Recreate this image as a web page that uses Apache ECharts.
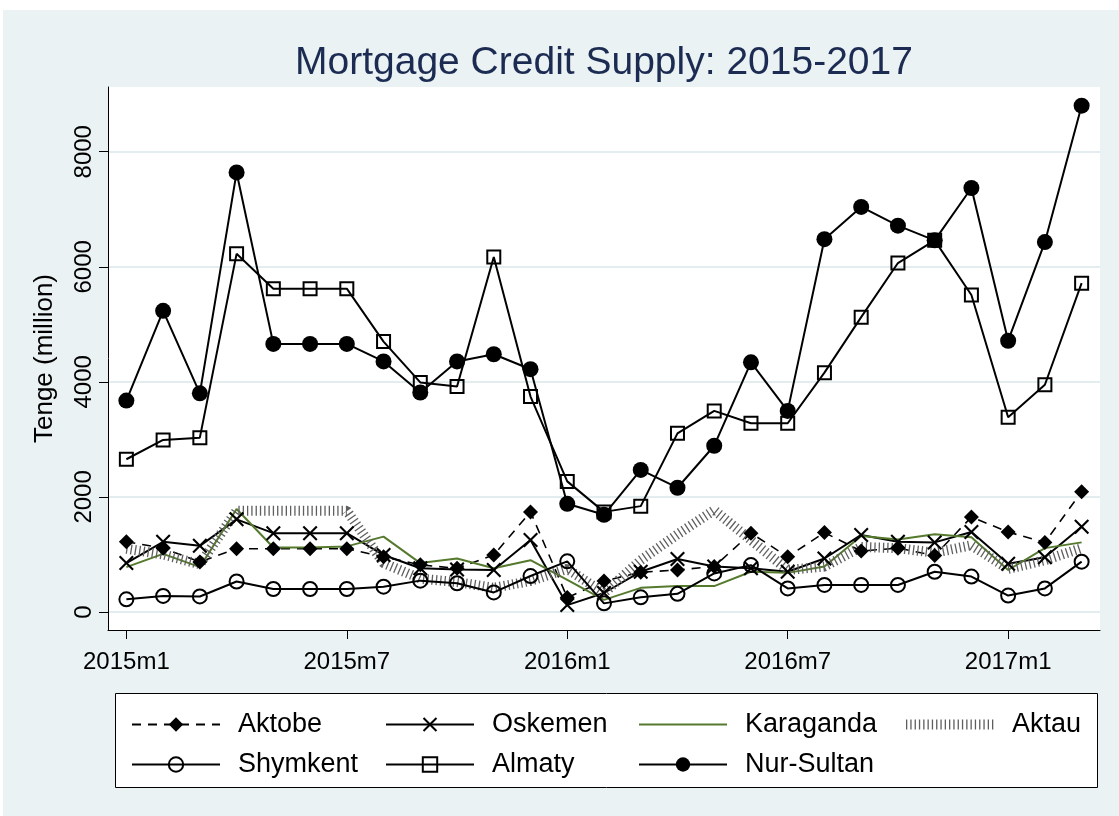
<!DOCTYPE html>
<html>
<head>
<meta charset="utf-8">
<script src="https://cdn.jsdelivr.net/npm/echarts@6/dist/echarts.min.js"></script>
<style>
  html, body { margin: 0; padding: 0; background: #fff; }
  #chart { width: 1119px; height: 816px; }
</style>
</head>
<body>
<div id="chart"></div>
<script>
const months = [
  "2015m1", "2015m2", "2015m3", "2015m4", "2015m5", "2015m6", "2015m7", "2015m8", "2015m9", "2015m10", "2015m11", "2015m12",
  "2016m1", "2016m2", "2016m3", "2016m4", "2016m5", "2016m6", "2016m7", "2016m8", "2016m9", "2016m10", "2016m11", "2016m12",
  "2017m1", "2017m2", "2017m3"
]
const yTicks = [0, 2000, 4000, 6000, 8000]

// Tenge (million)
const aktobe = [1220, 1110, 870, 1100, 1100, 1100, 1100, 960, 820, 760, 990, 1740, 250, 540, 690, 730, 790, 1370, 960, 1380, 1060, 1110, 980, 1650, 1390, 1210, 2090]
const oskemen = [850, 1220, 1150, 1610, 1370, 1370, 1370, 990, 760, 740, 730, 1250, 120, 330, 700, 920, 790, 760, 700, 930, 1340, 1220, 1210, 1390, 840, 950, 1480]
const karaganda = [780, 1010, 780, 1790, 1120, 1120, 1140, 1310, 850, 930, 760, 900, 560, 210, 420, 450, 450, 700, 680, 790, 1320, 1260, 1350, 1300, 730, 1110, 1210]
const aktau = [1100, 1000, 830, 1760, 1760, 1760, 1760, 850, 580, 520, 420, 540, 750, 330, 900, 1350, 1770, 1250, 730, 790, 1130, 1110, 1030, 1160, 750, 900, 1110]
const shymkent = [220, 280, 270, 530, 400, 400, 400, 440, 545, 500, 340, 625, 880, 150, 255, 315, 670, 815, 410, 470, 470, 470, 700, 615, 285, 410, 875]
const almaty = [2655, 2990, 3030, 6225, 5620, 5620, 5620, 4700, 3990, 3920, 6170, 3745, 2270, 1740, 1840, 3105, 3495, 3280, 3280, 4160, 5125, 6065, 6460, 5510, 3385, 3950, 5715]
const nurSultan = [3675, 5235, 3800, 7640, 4660, 4660, 4660, 4355, 3815, 4355, 4480, 4220, 1880, 1690, 2470, 2160, 2890, 4340, 3495, 6480, 7040, 6715, 6460, 7370, 4715, 6430, 8800]

const font = "'Liberation Sans', Arial, sans-serif"
const crossPath = "path://M0,1L1,0L5,4L9,0L10,1L6,5L10,9L9,10L5,6L1,10L0,9L4,5Z"
const green = "#557a2d"
const hatch = { color: "#5e5e5e", width: 10, type: [1.3, 3], cap: "butt" }

const chart = echarts.init(document.getElementById("chart"))

function lineSeries(name, data, extra) {
  return Object.assign({
    name: name,
    type: "line",
    data: data,
    symbol: "none",
    lineStyle: { color: "#000", width: 2 },
    itemStyle: { color: "#000" },
    emphasis: { disabled: true },
  }, extra)
}

const legendText = { fontSize: 27, fontFamily: font, color: "#000", lineHeight: 27, padding: [0, 0, 0, 13] }
function legendCol(names, left) {
  return {
    data: names, orient: "vertical", left: left, top: 706,
    itemWidth: 88, itemHeight: 18, itemGap: 13,
    textStyle: legendText, selectedMode: false,
  }
}
const noSymbol = { color: "rgba(0,0,0,0)", borderWidth: 0 }

const option = {
  backgroundColor: "#eaf2f3",
  animation: false,
  title: {
    text: "Mortgage Credit Supply: 2015-2017",
    left: 290, top: 39,
    textStyle: { color: "#1c2b52", fontSize: 39, fontWeight: "normal", fontFamily: font },
  },
  graphic: [
    { type: "rect", shape: { x: 0, y: 0, width: 1119, height: 10 }, style: { fill: "#fff" }, silent: true },
    { type: "rect", shape: { x: 0, y: 0, width: 3, height: 816 }, style: { fill: "#fff" }, silent: true },
    { type: "rect", shape: { x: 115.5, y: 693.5, width: 982, height: 94 }, style: { fill: "#fff", stroke: "#000", lineWidth: 1 }, silent: true, z: 0 },
  ],
  legend: [
    legendCol(["Aktobe", "Shymkent"], 126),
    legendCol(["Oskemen", "Almaty"], 380),
    legendCol([{ name: "Karaganda", itemStyle: noSymbol }, "Nur-Sultan"], 633),
    legendCol([{ name: "Aktau", itemStyle: noSymbol, lineStyle: hatch }], 896),
  ],
  grid: {
    left: 108, right: 19, top: 87, bottom: 186,
    show: true, backgroundColor: "#fff", borderWidth: 0,
  },
  xAxis: {
    type: "category",
    data: months,
    boundaryGap: true,
    axisLine: { onZero: false, lineStyle: { color: "#000", width: 1 } },
    axisTick: { show: true, interval: 5, alignWithLabel: true, length: 9, lineStyle: { color: "#000", width: 1 } },
    axisLabel: { interval: 5, margin: 20, fontSize: 24, fontFamily: font, color: "#000" },
    splitLine: { show: false },
  },
  yAxis: {
    type: "value",
    min: -313, max: 9125,
    name: "Tenge (million)",
    nameLocation: "middle",
    nameGap: 50,
    nameTextStyle: { fontSize: 26, fontFamily: font, color: "#000" },
    axisLine: { show: true, lineStyle: { color: "#000", width: 1 } },
    axisTick: { show: true, length: 9, customValues: yTicks, lineStyle: { color: "#000" } },
    axisLabel: {
      customValues: yTicks, rotate: 90, margin: 12, fontSize: 24, fontFamily: font, color: "#000",
      formatter: (v) => String(v),
    },
    splitLine: { show: true, lineStyle: { color: "#e3ecef", width: 2 } },
  },
  series: [
    lineSeries("Aktobe", aktobe, {
      symbol: "diamond", symbolSize: 15,
      lineStyle: { color: "#000", width: 1.6, type: [9, 7] },
    }),
    lineSeries("Oskemen", oskemen, {
      symbol: crossPath, symbolSize: 15,
    }),
    lineSeries("Karaganda", karaganda, {
      lineStyle: { color: green, width: 2 },
      itemStyle: { color: green },
    }),
    lineSeries("Aktau", aktau, {
      lineStyle: hatch,
      itemStyle: { color: hatch.color },
    }),
    lineSeries("Shymkent", shymkent, {
      symbol: "circle", symbolSize: 14,
      itemStyle: { color: "rgba(255,255,255,0)", borderColor: "#000", borderWidth: 2 },
    }),
    lineSeries("Almaty", almaty, {
      symbol: "rect", symbolSize: 13,
      itemStyle: { color: "rgba(255,255,255,0)", borderColor: "#000", borderWidth: 2 },
    }),
    lineSeries("Nur-Sultan", nurSultan, {
      symbol: "circle", symbolSize: 16,
    }),
  ],
}

chart.setOption(option)
</script>
</body>
</html>
